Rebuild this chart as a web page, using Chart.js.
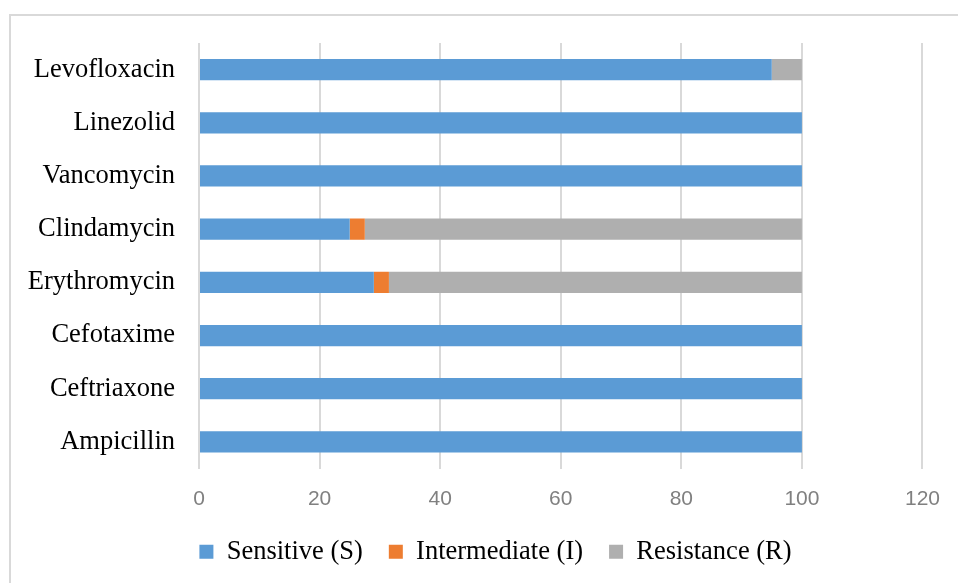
<!DOCTYPE html>
<html>
<head>
<meta charset="utf-8">
<script src="https://cdn.jsdelivr.net/npm/chart.js@4.4.1/dist/chart.umd.min.js"></script>
<style>
  html, body { margin: 0; padding: 0; background: #ffffff; }
  #wrap { position: relative; width: 958px; height: 583px; }
</style>
</head>
<body>
<div id="wrap"><canvas id="chart" width="958" height="583"></canvas></div>
<script>
// Antibiotic susceptibility (%) per drug
const antibiotics = ['Ampicillin', 'Ceftriaxone', 'Cefotaxime', 'Erythromycin',
                     'Clindamycin', 'Vancomycin', 'Linezolid', 'Levofloxacin'];
const sensitive    = [100, 100, 100, 29,   25,   100, 100, 95];
const intermediate = [0,   0,   0,   2.5,  2.5,  0,   0,   0];
const resistance   = [0,   0,   0,   68.5, 72.5, 0,   0,   5];
const xTicks = [0, 20, 40, 60, 80, 100, 120];

// thin light frame around the whole figure
const framePlugin = {
  id: 'frame',
  beforeDraw(chart) {
    const ctx = chart.ctx;
    ctx.save();
    ctx.strokeStyle = '#d9d9d9';
    ctx.lineWidth = 2;
    ctx.strokeRect(10, 15, 1000, 1000);
    ctx.restore();
  }
};

// centre the legend row under the plot rather than the full canvas
const legendShift = {
  id: 'legendShift',
  afterLayout(chart) {
    const lg = chart.legend;
    if (lg) {
      lg.left = 66;
      lg.width = lg.right - lg.left;
    }
  }
};

const serif = "'Liberation Serif', 'Times New Roman', serif";

new Chart(document.getElementById('chart'), {
  type: 'bar',
  data: {
    labels: antibiotics,
    datasets: [
      { label: 'Sensitive (S)', data: sensitive, backgroundColor: '#5b9bd5' },
      { label: 'Intermediate (I)', data: intermediate, backgroundColor: '#ed7d31' },
      { label: 'Resistance (R)', data: resistance, backgroundColor: '#afafaf' }
    ]
  },
  options: {
    indexAxis: 'y',
    responsive: false,
    animation: false,
    datasets: { bar: { categoryPercentage: 1, barPercentage: 0.4 } },
    layout: { padding: { top: 43, right: 33, left: 0, bottom: 8 } },
    plugins: {
      tooltip: { enabled: false },
      legend: {
        position: 'bottom',
        labels: {
          boxWidth: 14,
          boxHeight: 14,
          padding: 26,
          color: '#000000',
          font: { family: serif, size: 26.5 }
        }
      }
    },
    scales: {
      x: {
        stacked: true,
        min: 0,
        max: 120,
        afterBuildTicks(scale) { scale.ticks = xTicks.map(v => ({ value: v })); },
        afterFit(scale) { scale.height = 44; },
        grid: { color: '#d9d9d9', lineWidth: 2, drawTicks: false },
        border: { display: false },
        ticks: {
          padding: 18,
          color: '#808080',
          font: { family: "'Liberation Sans', Arial, sans-serif", size: 21 }
        }
      },
      y: {
        stacked: true,
        reverse: true,
        afterFit(scale) { scale.width = 199; },
        grid: { display: false, drawTicks: false },
        border: { display: false },
        ticks: {
          padding: 24,
          color: '#000000',
          font: { family: serif, size: 26.5 }
        }
      }
    }
  },
  plugins: [framePlugin, legendShift]
});
</script>
</body>
</html>
